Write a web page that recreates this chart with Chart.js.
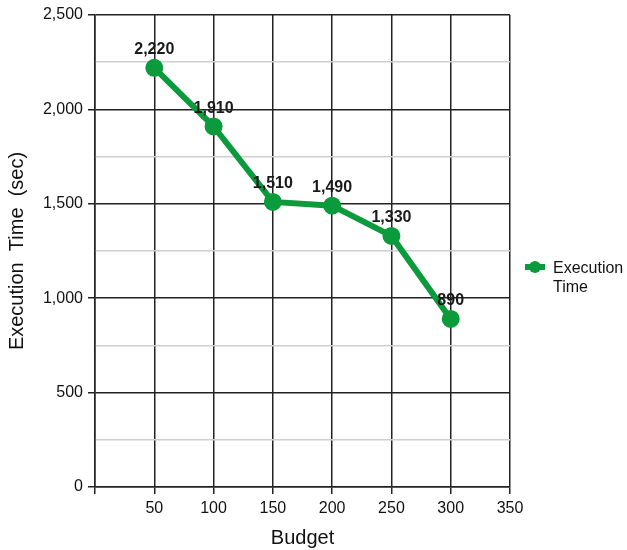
<!DOCTYPE html>
<html>
<head>
<meta charset="utf-8">
<script src="https://cdn.jsdelivr.net/npm/chart.js@4"></script>
<style>
    html, body { margin: 0; padding: 0; background: #fff; }
    #wrap { width: 627px; height: 550px; }
</style>
</head>
<body>
<div id="wrap"><canvas id="myChart" width="627" height="550"></canvas></div>
<script>
// @ts-check

const budgets = [50, 100, 150, 200, 250, 300];
const executionTimes = [2220, 1910, 1510, 1490, 1330, 890];
const seriesLabel = ['Execution', 'Time'];
const xTitle = 'Budget';
const yTitle = 'Execution  Time  (sec)';

const GREEN = '#0b9a3c';
const FONT = "'Liberation Sans', Arial, sans-serif";

/**
 * Value labels above each point
 */
const pointLabels = {
    id: 'pointLabels',
    afterDatasetsDraw(chart) {
        const ctx = chart.ctx;
        const meta = chart.getDatasetMeta(0);
        ctx.save();
        ctx.font = `bold 16px ${FONT}`;
        ctx.fillStyle = '#1a1a1a';
        ctx.textAlign = 'center';
        ctx.textBaseline = 'middle';
        meta.data.forEach((pt, i) => {
            ctx.fillText(executionTimes[i].toLocaleString('en-US'), pt.x, pt.y - 18);
        });
        ctx.restore();
    }
};

/**
 * Legend on the right, text wrapped on two lines
 */
const sideLegend = {
    id: 'sideLegend',
    afterDraw(chart) {
        const ctx = chart.ctx;
        const x = chart.chartArea.right + 15;
        const y = 267;
        ctx.save();
        ctx.strokeStyle = GREEN;
        ctx.fillStyle = GREEN;
        ctx.lineWidth = 6;
        ctx.beginPath();
        ctx.moveTo(x, y);
        ctx.lineTo(x + 20, y);
        ctx.stroke();
        ctx.beginPath();
        ctx.arc(x + 10, y, 6, 0, Math.PI * 2);
        ctx.fill();
        ctx.font = `16px ${FONT}`;
        ctx.fillStyle = '#111';
        ctx.textAlign = 'left';
        ctx.textBaseline = 'middle';
        seriesLabel.forEach((line, i) => ctx.fillText(line, x + 28, y + 2 + i * 19));
        ctx.restore();
    }
};

function renderChart() {
    const ctx = document.getElementById('myChart');
    new Chart(ctx, {
        type: 'line',
        data: {
            datasets: [{
                label: seriesLabel.join(' '),
                data: budgets.map((b, i) => ({ x: b, y: executionTimes[i] })),
                borderColor: GREEN,
                backgroundColor: GREEN,
                borderWidth: 6,
                pointRadius: 6,
                pointHoverRadius: 6,
                tension: 0
            }]
        },
        options: {
            responsive: false,
            animation: false,
            layout: { padding: { top: 15, right: 117, left: 0, bottom: 0 } },
            plugins: {
                legend: { display: false },
                tooltip: { enabled: false }
            },
            scales: {
                x: {
                    type: 'linear',
                    min: 0,
                    max: 350,
                    afterFit: (scale) => { scale.height = 63; },
                    ticks: {
                        stepSize: 50,
                        padding: 5,
                        color: '#111',
                        font: { family: FONT, size: 16 },
                        callback: (v) => (v === 0 ? '' : v)
                    },
                    grid: { color: '#222', lineWidth: 1.5, tickLength: 7, tickColor: '#222' },
                    border: { color: '#222', width: 1.5 },
                    title: {
                        display: true,
                        text: xTitle,
                        color: '#111',
                        font: { family: FONT, size: 20 },
                        padding: { top: 4, bottom: 0 }
                    }
                },
                y: {
                    min: 0,
                    max: 2500,
                    afterFit: (scale) => { scale.width = 95; },
                    ticks: {
                        stepSize: 250,
                        padding: 5,
                        color: '#111',
                        font: { family: FONT, size: 16 },
                        callback: (v) => (v % 500 === 0 ? v.toLocaleString('en-US') : '')
                    },
                    grid: {
                        color: (c) => (c.tick && c.tick.value % 500 === 0 ? '#222' : '#cfcfcf'),
                        tickColor: (c) => (c.tick && c.tick.value % 500 === 0 ? '#222' : 'rgba(0,0,0,0)'),
                        lineWidth: 1.5,
                        tickLength: 7
                    },
                    border: { color: '#222', width: 1.5 },
                    title: {
                        display: true,
                        text: yTitle,
                        color: '#111',
                        font: { family: FONT, size: 20 },
                        padding: { top: 5, bottom: 4 }
                    }
                }
            }
        },
        plugins: [pointLabels, sideLegend]
    });
}

renderChart();
</script>
</body>
</html>
